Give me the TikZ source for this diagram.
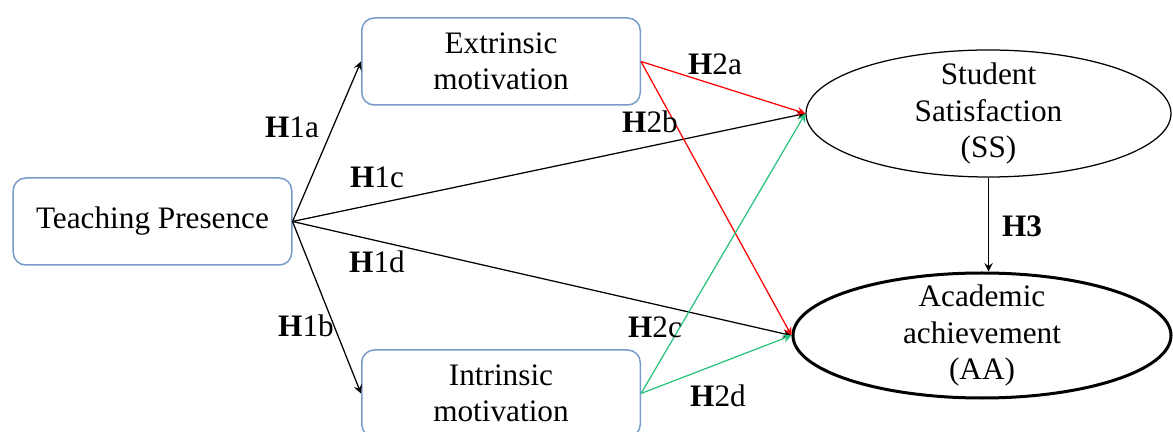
\documentclass[tikz,border=0pt]{standalone}
\usepackage{fontspec}
\setmainfont{Liberation Serif}
\usetikzlibrary{shapes.geometric, arrows, positioning}
\definecolor{boxblue}{RGB}{120,155,200}
\definecolor{hgreen}{RGB}{40,195,125}
\tikzstyle{construct} = [rectangle, rounded corners=5pt, minimum width=111.4pt, minimum height=34.8pt, align=center, draw=boxblue, line width=0.6pt]
\tikzstyle{outcome} = [ellipse, draw=black, inner sep=0pt]
\tikzstyle{arrow} = [->,>=stealth, line width=0.5pt]
\tikzstyle{hyp} = [inner sep=0pt]

\begin{document}
\begin{tikzpicture}[x=0.4pt, y=-0.4pt, font=\fontsize{12.5}{14.5}\selectfont]
\useasboundingbox (0,0) rectangle (1173,432);
% Teaching presence
\node[construct] (tp) at (152.5,221.5) {Teaching Presence};

% Motivation
\node[construct] (ext) at (501,61.5) {Extrinsic\\motivation};
\node[construct] (int) at (501,393.5) {Intrinsic\\motivation};

% Outcomes
\node[outcome, minimum width=146pt, minimum height=50.8pt, line width=0.5pt,
  label={[align=center]center:Student\\Satisfaction\\(SS)}] (ss) at (988.5,113.5) {};
\node[outcome, minimum width=151.2pt, minimum height=50pt, line width=1.2pt,
  label={[align=center]center:Academic\\achievement\\(AA)}] (aa) at (982,335.5) {};

% Connections
\draw[arrow] (tp.east) -- (ext.west);
\draw[arrow] (tp.east) -- (int.west);
\draw[arrow] (tp.east) -- (ss.west);
\draw[arrow] (tp.east) -- (aa.west);
\draw[arrow, red] (ext.east) -- (ss.west);
\draw[arrow, red] (ext.east) -- (aa.west);
\draw[arrow, hgreen] (int.east) -- (ss.west);
\draw[arrow, hgreen] (int.east) -- (aa.west);
\draw[arrow] (ss.south) -- (ss.south |- aa.north);

% Hypotheses
\node[hyp] (h1a) at (292,127) {\textbf{H}1a};
\node[hyp] (h1b) at (306,326) {\textbf{H}1b};
\node[hyp] (h1c) at (377,177) {\textbf{H}1c};
\node[hyp] (h1d) at (377,262) {\textbf{H}1d};
\node[hyp] (h2a) at (715,64) {\textbf{H}2a};
\node[hyp] (h2b) at (650,122) {\textbf{H}2b};
\node[hyp] (h2c) at (655,327) {\textbf{H}2c};
\node[hyp] (h2d) at (718,396) {\textbf{H}2d};
\node[hyp] (h3) at (1022,226) {\textbf{H3}};
\end{tikzpicture}
\end{document}
